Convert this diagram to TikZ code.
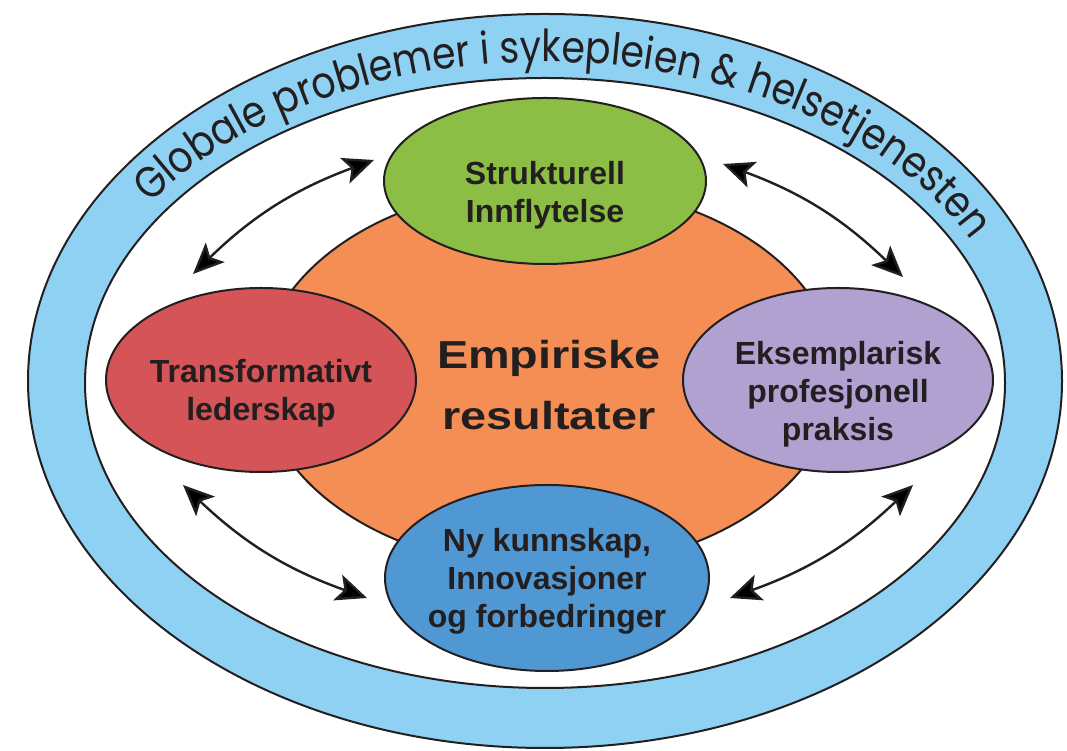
\documentclass[tikz,border=0pt]{standalone}
\usepackage{fontspec}
\usepackage{graphicx}
\setmainfont{Liberation Sans}
\newfontfamily\ringfont[FakeStretch=0.86]{Poppins}
\usetikzlibrary{arrows.meta,decorations.text,shapes.geometric,calc}

\definecolor{ringblue}{RGB}{142,209,242}
\definecolor{fieldgreen}{RGB}{140,190,70}
\definecolor{fieldorange}{RGB}{245,142,85}
\definecolor{fieldred}{RGB}{213,84,88}
\definecolor{fieldpurple}{RGB}{176,161,208}
\definecolor{fieldblue}{RGB}{80,152,212}
\definecolor{ink}{RGB}{35,31,32}

% centred lines of text, drawn #1 pt lower than the box that TikZ centres
\newcommand\boxtext[2]{\makebox[0pt]{\raisebox{-#1pt}[\height][\depth]{\begin{tabular}{@{}c@{}}#2\end{tabular}}}}

\begin{document}
\begin{tikzpicture}[x=1pt,y=1pt,
  blob/.style={ellipse, draw=ink, line width=2pt, inner sep=0pt, text=ink,
    font=\bfseries\fontsize{32}{38}\selectfont},
  link/.style={draw=ink, line width=2.4pt,
    {Stealth[length=31pt,width=27pt,inset=7pt]}-{Stealth[length=31pt,width=27pt,inset=7pt]}},
]
\useasboundingbox (0,0) rectangle (1067,751);

% outer ring
\draw[fill=ringblue, draw=ink, line width=2pt] (545,370) ellipse [x radius=517pt, y radius=367pt];
\draw[fill=white, draw=ink, line width=2pt] (545,368) ellipse [x radius=460pt, y radius=305pt];
\path[decorate, decoration={text along path, text align=center, text color=ink,
    text={|\ringfont\fontsize{44}{46}\selectfont|Globale problemer i sykepleien {\&} helsetjenesten}}]
  ($(545,369)+(152:475pt and 320pt)$) arc[start angle=152, end angle=20, x radius=475pt, y radius=320pt];

% central field
\node[blob, fill=fieldorange, minimum width=576pt, minimum height=384pt,
  font=\bfseries\fontsize{39}{61}\selectfont] (emp) at (549,374)
  {\scalebox{1.2}[1]{\boxtext{10}{Empiriske\\resultater}}};

% surrounding fields
\node[blob, fill=fieldgreen, minimum width=322pt, minimum height=166pt] (grn) at (545,570)
  {\boxtext{15}{Strukturell\\Innflytelse}};
\node[blob, fill=fieldred, minimum width=310pt, minimum height=184pt] (red) at (261,371)
  {\boxtext{14}{Transformativt\\lederskap}};
\node[blob, fill=fieldpurple, minimum width=310pt, minimum height=184pt] (pur) at (838,371)
  {\boxtext{15}{Eksemplarisk\\profesjonell\\praksis}};
\node[blob, fill=fieldblue, minimum width=324pt, minimum height=186pt] (blu) at (547,173)
  {\boxtext{4}{Ny kunnskap,\\Innovasjoner\\og forbedringer}};

% two-way influences
\draw[link] ($(red.north)+(-68,13)$) to[bend left=12] ($(grn.west)+(-9,21)$);
\draw[link] ($(grn.east)+(16,17)$) to[bend left=12] ($(pur.north)+(65,10)$);
\draw[link] ($(red.south)+(-78,-12)$) to[bend right=12] ($(blu.west)+(-17,-20)$);
\draw[link] ($(blu.east)+(20,-20)$) to[bend right=12] ($(pur.south)+(75,-12)$);
\end{tikzpicture}
\end{document}
